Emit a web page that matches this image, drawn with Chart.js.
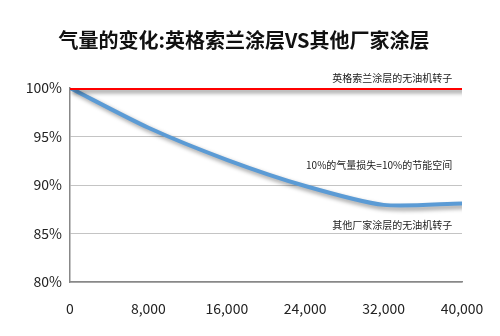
<!DOCTYPE html>
<html>
<head>
<meta charset="utf-8">
<script src="https://cdn.jsdelivr.net/npm/chart.js@4"></script>
<style>
  html, body { margin: 0; padding: 0; background: #fff; }
  #wrap { width: 500px; height: 336px; }
</style>
</head>
<body>
<div id="wrap"><canvas id="chart-air"></canvas></div>
<script>
// ---- data ----
const xTicks = [0, 8000, 16000, 24000, 32000, 40000];
const ingersollValues = [100, 100, 100, 100, 100, 100];
const otherValues = [100, 95.9, 92.6, 89.9, 87.95, 88.1];
const yTicks = [80, 85, 90, 95, 100];

const titleText = '气量的变化:英格索兰涂层VS其他厂家涂层';
// note labels: [text, x value, y value]
const notes = [
  ['英格索兰涂层的无油机转子', 39000, 101.0],
  ['10%的气量损失=10%的节能空间', 39000, 92.0],
  ['其他厂家涂层的无油机转子', 39000, 85.85],
];

const FONT = "'Noto Sans CJK SC', 'Noto Sans', sans-serif";
Chart.defaults.font.family = FONT;
Chart.defaults.color = '#222';

const toPoints = vals => vals.map((v, i) => ({ x: xTicks[i], y: v }));

// soft drop shadow under the lines
const shadowPlugin = {
  id: 'shadow',
  beforeDatasetDraw(chart) {
    const c = chart.ctx;
    c.save();
    c.shadowColor = 'rgba(0,0,0,0.4)';
    c.shadowBlur = 4;
    c.shadowOffsetX = 3;
    c.shadowOffsetY = 3;
  },
  afterDatasetDraw(chart) {
    chart.ctx.restore();
  }
};

// text notes + title
const notesPlugin = {
  id: 'notes',
  afterDraw(chart) {
    const c = chart.ctx;
    const xs = chart.scales.x, ys = chart.scales.y;
    c.save();
    c.fillStyle = '#222';
    c.font = '10px ' + FONT;
    c.textAlign = 'right';
    c.textBaseline = 'middle';
    notes.forEach(([t, x, y]) => c.fillText(t, xs.getPixelForValue(x), ys.getPixelForValue(y)));
    c.font = 'bold 20px ' + FONT;
    c.textAlign = 'center';
    c.fillStyle = '#111';
    c.fillText(titleText, 244, 40);
    c.restore();
  }
};

new Chart(document.getElementById('chart-air'), {
  type: 'line',
  data: {
    datasets: [
      {
        label: '英格索兰',
        data: toPoints(ingersollValues),
        borderColor: '#ff0000',
        borderWidth: 4,
        pointRadius: 0,
        tension: 0,
      },
      {
        label: '其他厂家',
        data: toPoints(otherValues),
        borderColor: '#5b9bd5',
        borderWidth: 4,
        pointRadius: 0,
        tension: 0.25,
      }
    ]
  },
  options: {
    responsive: true,
    maintainAspectRatio: false,
    animation: false,
    layout: { padding: { top: 88, right: 38, left: 0, bottom: 0 } },
    plugins: {
      legend: { display: false },
      tooltip: { enabled: false },
    },
    scales: {
      x: {
        type: 'linear',
        min: 0,
        max: 40000,
        afterBuildTicks: s => { s.ticks = xTicks.map(v => ({ value: v })); },
        afterFit: s => { s.height = 54; },
        border: { display: true, color: '#888', width: 1.5 },
        grid: { display: false },
        ticks: {
          font: { size: 14 },
          color: '#222',
          padding: 10,
          maxRotation: 0,
          callback: v => v.toLocaleString('en-US')
        }
      },
      y: {
        min: 80,
        max: 100,
        afterBuildTicks: s => { s.ticks = yTicks.map(v => ({ value: v })); },
        afterFit: s => { s.width = 70; },
        border: { display: true, color: '#888', width: 1.5 },
        grid: { color: '#c4c4c4', lineWidth: 1, drawTicks: false },
        ticks: {
          font: { size: 14 },
          color: '#222',
          padding: 8,
          callback: v => v + '%'
        }
      }
    }
  },
  plugins: [shadowPlugin, notesPlugin]
});
</script>
</body>
</html>
